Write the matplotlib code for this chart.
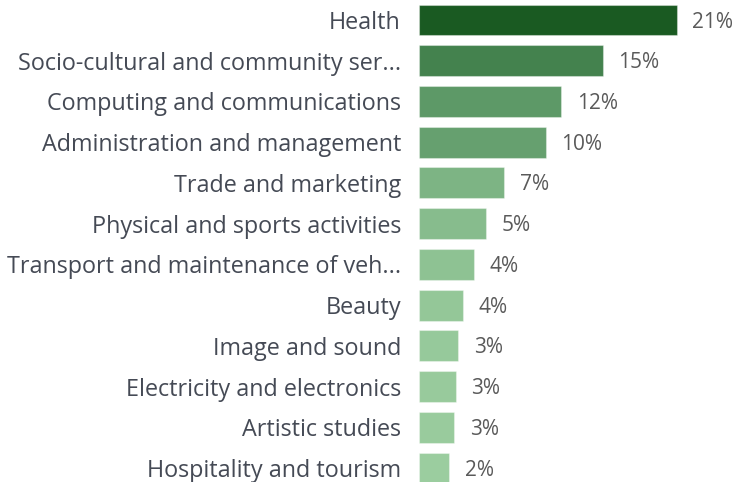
import matplotlib
matplotlib.use("Agg")
import matplotlib.pyplot as plt
from matplotlib.colors import LinearSegmentedColormap, Normalize

categories = [
    "Health",
    "Socio-cultural and community ser...",
    "Computing and communications",
    "Administration and management",
    "Trade and marketing",
    "Physical and sports activities",
    "Transport and maintenance of veh...",
    "Beauty",
    "Image and sound",
    "Electricity and electronics",
    "Artistic studies",
    "Hospitality and tourism",
]
values = [21.0, 15.0, 11.6, 10.35, 6.95, 5.46, 4.46, 3.59, 3.2, 2.99, 2.88, 2.47]
value_labels = ["21%", "15%", "12%", "10%", "7%", "5%", "4%", "4%", "3%", "3%", "3%", "2%"]

cmap = LinearSegmentedColormap.from_list("greens", ["#9bcd9f", "#5c9866", "#1a5a22"])
norm = Normalize(vmin=min(values), vmax=max(values))

W, H = 738, 482
fig = plt.figure(figsize=(W / 100, H / 100), dpi=100)
pitch = 40.73
ax = fig.add_axes([419 / W, 0, 25 * 12.27 / W, 1])

y = list(range(len(categories)))
colors = [cmap(norm(v)) for v in values]
ax.barh(y, values, height=0.76, color=colors, edgecolor=(1, 1, 1, 0.35), linewidth=0.8)

for yi, v, lab in zip(y, values, value_labels):
    ax.text(v + 1.25, yi + 0.05, lab, va="center", ha="left", fontsize=15,
            color="#5a5a5a", family="Open Sans", weight=500)

ax.set_xlim(0, 25)
ax.set_ylim(11 + (H - 468) / pitch, -20 / pitch)
ax.set_yticks(y)
ax.set_yticklabels(categories, fontsize=16.8, color="#454a55", family="Open Sans", weight=500)
ax.tick_params(axis="y", length=0, pad=13)
ax.set_xticks([])
for s in ax.spines.values():
    s.set_visible(False)

fig.savefig("out.png", dpi=100)
